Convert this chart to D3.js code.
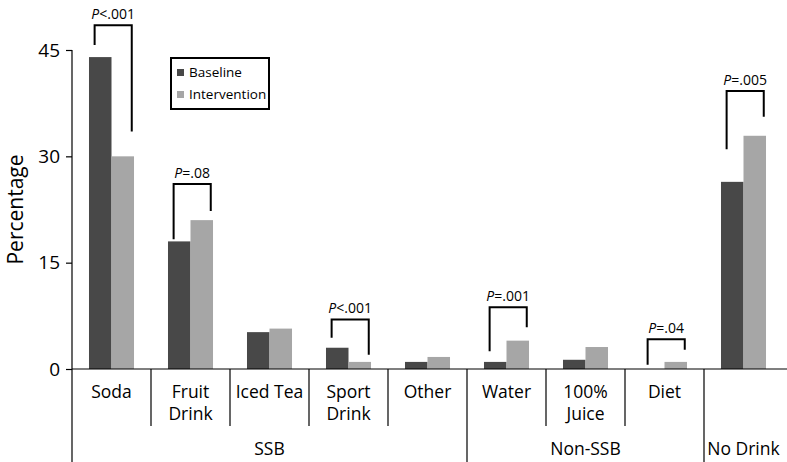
<!DOCTYPE html>
<html>
<head>
<meta charset="utf-8">
<script src="https://cdn.jsdelivr.net/npm/d3@7"></script>
<style>
  body { margin: 0; background: #fff; }
  svg { display: block; font-family: 'Open Sans', sans-serif; }
</style>
</head>
<body>
<svg id="chart" width="787" height="462"></svg>
<script>
// drink categories, in plot order
const categories = ['Soda', 'Fruit Drink', 'Iced Tea', 'Sport Drink', 'Other', 'Water', '100% Juice', 'Diet', 'No Drink'];
// label lines under each bar pair (empty = labelled by its group only)
const categoryLabels = [['Soda'], ['Fruit', 'Drink'], ['Iced Tea'], ['Sport', 'Drink'], ['Other'], ['Water'], ['100%', 'Juice'], ['Diet'], []];
const groups = [
  { name: 'SSB', from: 'Soda', to: 'Other' },
  { name: 'Non-SSB', from: 'Water', to: 'Diet' },
  { name: 'No Drink', from: 'No Drink', to: 'No Drink' }
];
const seriesNames = ['Baseline', 'Intervention'];
const baseline = [44, 18, 5.2, 3.0, 1.0, 1.0, 1.3, 0, 26.4];
const intervention = [30, 21, 5.7, 1.0, 1.7, 4.0, 3.1, 1.0, 32.9];
const yTicks = [0, 15, 30, 45];

// significance brackets: top of bracket and ends of the two legs, in percent units
const brackets = [
  { cat: 'Soda', op: '<.001', top: 48.5, left: 45.7, right: 33.5 },
  { cat: 'Fruit Drink', op: '=.08', top: 26.1, left: 18.3, right: 22.3 },
  { cat: 'Sport Drink', op: '<.001', top: 7.0, left: 4.4, right: 2.0 },
  { cat: 'Water', op: '=.001', top: 8.7, left: 2.5, right: 5.9 },
  { cat: 'Diet', op: '=.04', top: 4.2, left: 0.6, right: 2.7 },
  { cat: 'No Drink', op: '=.005', top: 39.2, left: 31.0, right: 35.6 }
];

const colors = { Baseline: '#484848', Intervention: '#a6a6a6' };

const svg = d3.select('#chart');
const left = 72, right = 783, zeroY = 369, topY = 50, bottom = 462;

const x = d3.scaleBand().domain(categories).range([left, right]).paddingInner(0).paddingOuter(0);
const x1 = d3.scaleBand().domain(seriesNames).range([0, x.bandwidth()]).paddingInner(0).paddingOuter(0.755);
const y = d3.scaleLinear().domain([0, 45]).range([zeroY, topY]);

const rows = categories.map((c, i) => ({ cat: c, Baseline: baseline[i], Intervention: intervention[i] }));

// bars
svg.append('g')
  .selectAll('g.cat')
  .data(rows)
  .join('g')
  .attr('class', 'cat')
  .attr('transform', d => `translate(${x(d.cat)},0)`)
  .selectAll('rect')
  .data(d => seriesNames.map(s => ({ s, v: d[s] })))
  .join('rect')
  .attr('x', d => x1(d.s))
  .attr('width', x1.bandwidth())
  .attr('y', d => y(d.v))
  .attr('height', d => y(0) - y(d.v))
  .attr('fill', d => colors[d.s]);

// y axis
const yAxis = svg.append('g')
  .attr('transform', `translate(${left},0)`)
  .call(d3.axisLeft(y).tickValues(yTicks).tickSize(6).tickPadding(6));
yAxis.select('.domain').remove();
yAxis.selectAll('.tick line').attr('stroke', '#000').attr('stroke-width', 1.2);
yAxis.selectAll('.tick text').attr('font-size', 19).attr('fill', '#000').attr('font-family', 'Open Sans');

svg.append('line')
  .attr('x1', left).attr('x2', left)
  .attr('y1', y(45)).attr('y2', bottom)
  .attr('stroke', '#000').attr('stroke-width', 1.2);

// zero line
svg.append('line')
  .attr('x1', left).attr('x2', 787)
  .attr('y1', y(0)).attr('y2', y(0))
  .attr('stroke', '#000').attr('stroke-width', 1.2);

svg.append('text')
  .attr('transform', `translate(23,${(y(0) + y(45)) / 2}) rotate(-90)`)
  .attr('text-anchor', 'middle')
  .attr('font-size', 21)
  .text('Percentage');

// dividers between categories; group edges run to the bottom
const groupEdges = new Set(groups.map(gr => gr.from));
categories.slice(1).forEach(c => {
  svg.append('line')
    .attr('x1', x(c)).attr('x2', x(c))
    .attr('y1', y(0))
    .attr('y2', groupEdges.has(c) ? bottom : 426)
    .attr('stroke', '#000').attr('stroke-width', 1.2);
});

// category labels
categories.forEach((c, i) => {
  const cx = x(c) + x.bandwidth() / 2;
  const t = svg.append('text')
    .attr('x', cx)
    .attr('y', 398)
    .attr('text-anchor', 'middle')
    .attr('font-size', 17.5);
  categoryLabels[i].forEach((line, j) => {
    t.append('tspan').attr('x', cx).attr('dy', j ? 22 : 0).text(line);
  });
});

// group labels
groups.forEach(gr => {
  const cx = (x(gr.from) + x(gr.to) + x.bandwidth()) / 2;
  svg.append('text')
    .attr('x', cx)
    .attr('y', 455)
    .attr('text-anchor', 'middle')
    .attr('font-size', 17.5)
    .text(gr.name);
});

// significance brackets
brackets.forEach(b => {
  const xl = x(b.cat) + x1('Baseline') + x1.bandwidth() * 0.25;
  const xr = x(b.cat) + x1('Intervention') + x1.bandwidth() * 0.9;
  svg.append('path')
    .attr('d', `M${xl},${y(b.left)}V${y(b.top)}H${xr}V${y(b.right)}`)
    .attr('fill', 'none')
    .attr('stroke', '#000')
    .attr('stroke-width', 2);
  const t = svg.append('text')
    .attr('x', (xl + xr) / 2)
    .attr('y', y(b.top) - 6)
    .attr('text-anchor', 'middle')
    .attr('font-size', 14);
  t.append('tspan').attr('font-style', 'italic').text('P');
  t.append('tspan').text(b.op);
});

// legend
const legend = svg.append('g').attr('transform', 'translate(171,58)');
legend.append('rect')
  .attr('width', 98).attr('height', 51)
  .attr('fill', '#fff').attr('stroke', '#000').attr('stroke-width', 2);
seriesNames.forEach((s, i) => {
  legend.append('rect')
    .attr('x', 6).attr('y', 11 + i * 22)
    .attr('width', 7).attr('height', 7)
    .attr('fill', colors[s]);
  legend.append('text')
    .attr('x', 18).attr('y', 19 + i * 22)
    .attr('font-size', 13.5)
    .text(s);
});
</script>
</body>
</html>
